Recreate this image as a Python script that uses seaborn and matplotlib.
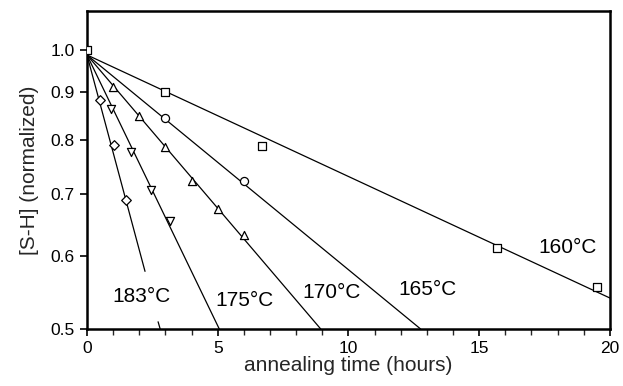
import numpy as np
import pandas as pd
import matplotlib
matplotlib.use("Agg")
import matplotlib.pyplot as plt
import seaborn as sns

# ---- data ----
t160 = [0.0, 3.0, 6.7, 15.7, 19.5]
s160 = [1.0, 0.90, 0.788, 0.611, 0.555]
t165 = [3.0, 6.0]
s165 = [0.845, 0.722]
t170 = [1.0, 2.0, 3.0, 4.0, 5.0, 6.0]
s170 = [0.913, 0.849, 0.786, 0.723, 0.673, 0.632]
t175 = [0.92, 1.67, 2.43, 3.17]
s175 = [0.863, 0.777, 0.706, 0.654]
t183 = [0.5, 1.02, 1.5]
s183 = [0.883, 0.790, 0.689]

# fitted lines (start / end points, log-linear)
fit160_x = [0.0, 20.0]
fit160_y = [0.988, 0.540]
fit165_x = [0.0, 12.76]
fit165_y = [0.988, 0.500]
fit170_x = [0.0, 8.94]
fit170_y = [0.988, 0.500]
fit175_x = [0.0, 5.06]
fit175_y = [0.988, 0.500]
fit183a_x = [0.0, 2.22]
fit183a_y = [0.988, 0.577]
fit183b_x = [2.72, 2.80]
fit183b_y = [0.509, 0.500]

labels = ["160°C", "165°C", "170°C", "175°C", "183°C"]
label_x = [18.39, 13.04, 9.37, 6.04, 2.10]
label_y = [0.6115, 0.551, 0.547, 0.537, 0.5414]

yticks = [0.5, 0.6, 0.7, 0.8, 0.9, 1.0]
ytick_labels = ["0.5", "0.6", "0.7", "0.8", "0.9", "1.0"]
xticks = [0, 5, 10, 15, 20]

# ---- style ----
sns.set_theme(style="ticks")
plt.rcParams["font.family"] = ["Liberation Sans", "DejaVu Sans"]

fig = plt.figure(figsize=(6.23, 3.86), dpi=100)
ax = fig.add_axes([0.1396, 0.1477, 0.979 - 0.1396, 0.9715 - 0.1477])
ax.set_yscale("log")

for fx, fy in [(fit160_x, fit160_y), (fit165_x, fit165_y), (fit170_x, fit170_y),
               (fit175_x, fit175_y), (fit183a_x, fit183a_y), (fit183b_x, fit183b_y)]:
    sns.lineplot(x=fx, y=fy, ax=ax, color="black", linewidth=0.9, zorder=2)

mk = dict(s=34, facecolor="white", edgecolor="black", linewidth=0.9, zorder=3)
sns.scatterplot(x=t160, y=s160, marker="s", ax=ax, **mk)
sns.scatterplot(x=t165, y=s165, marker="o", ax=ax, **mk)
sns.scatterplot(x=t170, y=s170, marker="^", ax=ax, **mk)
sns.scatterplot(x=t175, y=s175, marker="v", ax=ax, **mk)
sns.scatterplot(x=t183, y=s183, marker="D", ax=ax, **dict(mk, s=24))

for lab, lx, ly in zip(labels, label_x, label_y):
    ax.text(lx, ly, lab, ha="center", va="center", fontsize=15, color="black")

ax.set_xlim(0, 20)
ax.set_ylim(0.5, 1.102)
ax.set_xticks(xticks)
ax.set_xticks(np.arange(0, 21, 1), minor=True)
ax.set_yticks(yticks)
ax.set_yticklabels(ytick_labels)
ax.yaxis.set_minor_locator(matplotlib.ticker.NullLocator())

ax.tick_params(axis="both", which="major", direction="out", length=5, width=1.2,
               labelsize=12.5, colors="black", pad=4)
ax.tick_params(axis="x", which="minor", direction="out", length=4, width=1.0)
for sp in ax.spines.values():
    sp.set_visible(True)
    sp.set_linewidth(1.8)
    sp.set_color("black")

ax.set_xlabel("annealing time (hours)", fontsize=15, labelpad=0)
ax.set_ylabel("[S-H] (normalized)", fontsize=15, labelpad=8)

fig.savefig("out.png", dpi=100)
